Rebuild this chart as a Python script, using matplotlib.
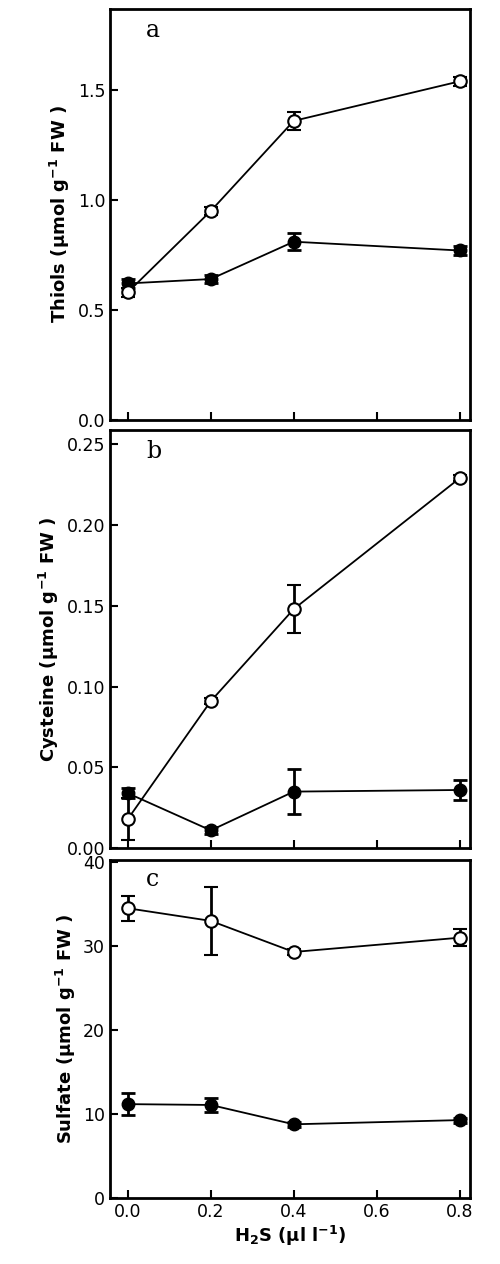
import matplotlib
matplotlib.use("Agg")
import matplotlib.pyplot as plt

h2s = [0.0, 0.2, 0.4, 0.8]

thiol_open = [0.58, 0.95, 1.36, 1.54]
thiol_open_err = [0.02, 0.02, 0.04, 0.02]
thiol_fill = [0.62, 0.64, 0.81, 0.77]
thiol_fill_err = [0.02, 0.02, 0.04, 0.02]

cys_open = [0.018, 0.091, 0.148, 0.229]
cys_open_err = [0.013, 0.002, 0.015, 0.002]
cys_fill = [0.034, 0.011, 0.035, 0.036]
cys_fill_err = [0.003, 0.002, 0.014, 0.006]

sulf_open = [34.5, 33.0, 29.3, 31.0]
sulf_open_err = [1.5, 4.0, 0.3, 1.0]
sulf_fill = [11.2, 11.1, 8.8, 9.3]
sulf_fill_err = [1.3, 0.8, 0.3, 0.3]

fig = plt.figure(figsize=(5, 12.64), dpi=100)
panels = [
    ([0.22, 0.668, 0.72, 0.325], thiol_open, thiol_open_err, thiol_fill, thiol_fill_err,
     (0, 1.87), [0.0, 0.5, 1.0, 1.5], ['0.0', '0.5', '1.0', '1.5'], 'Thiols', 'a'),
    ([0.22, 0.329, 0.72, 0.331], cys_open, cys_open_err, cys_fill, cys_fill_err,
     (0, 0.259), [0, 0.05, 0.1, 0.15, 0.2, 0.25], ['0.00', '0.05', '0.10', '0.15', '0.20', '0.25'], 'Cysteine', 'b'),
    ([0.22, 0.052, 0.72, 0.268], sulf_open, sulf_open_err, sulf_fill, sulf_fill_err,
     (0, 40.3), [0, 10, 20, 30, 40], ['0', '10', '20', '30', '40'], 'Sulfate', 'c'),
]

for i, (rect, yo, eo, yf, ef, ylim, yt, ytl, name, letter) in enumerate(panels):
    ax = fig.add_axes(rect)
    ax.errorbar(h2s, yf, yerr=ef, color='black', marker='o', ms=9, mfc='black',
                lw=1.3, capsize=5, elinewidth=2, capthick=2)
    ax.errorbar(h2s, yo, yerr=eo, color='black', marker='o', ms=9, mfc='white',
                mew=1.5, lw=1.3, capsize=5, elinewidth=2, capthick=2)
    ax.set_xlim(-0.043, 0.825)
    ax.set_ylim(*ylim)
    ax.set_yticks(yt)
    ax.set_yticklabels(ytl, fontsize=12.5)
    ax.set_xticks([0.0, 0.2, 0.4, 0.6, 0.8])
    if i == 2:
        ax.set_xticklabels(['0.0', '0.2', '0.4', '0.6', '0.8'], fontsize=12.5)
        ax.set_xlabel(r'H$_\mathbf{2}$S ($\mathbf{\mu}$l l$^{\mathbf{-1}}$)', fontsize=13, fontweight='bold', labelpad=2)
    else:
        ax.set_xticklabels([])
    ax.set_ylabel(name + r' ($\mathbf{\mu}$mol g$^{\mathbf{-1}}$ FW )', fontsize=13, fontweight='bold')
    ax.tick_params(direction='in', width=1.5, length=6)
    for s in ax.spines.values():
        s.set_linewidth(2)
    ax.text(0.1, 0.975, letter, transform=ax.transAxes, fontsize=17, family='serif', va='top')

fig.savefig('out.png', dpi=100)
